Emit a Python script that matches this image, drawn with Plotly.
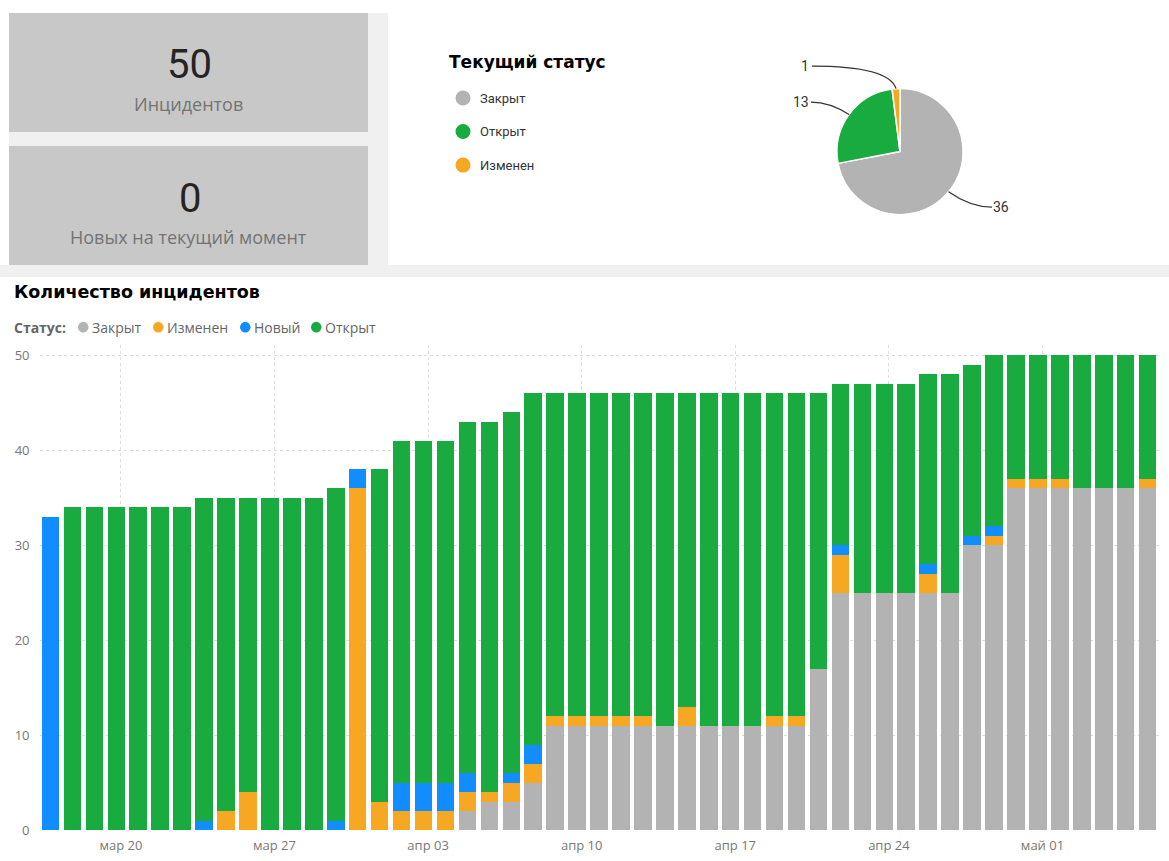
import math
import pandas as pd
import plotly.graph_objects as go

# ---------------- data ----------------
start_date = "2020-03-17"
n_days = 51
dates = pd.date_range(start_date, periods=n_days)

closed  = [0,0,0,0,0,0,0,0,0,0,0,0,0,0,0,0,0,0,0,2,3,3,5,11,11,11,11,11,11,11,11,11,11,11,11,17,25,25,25,25,25,25,30,30,36,36,36,36,36,36,36]
changed = [0,0,0,0,0,0,0,0,2,4,0,0,0,0,36,3,2,2,2,2,1,2,2,1,1,1,1,1,0,2,0,0,0,1,1,0,4,0,0,0,2,0,0,1,1,1,1,0,0,0,1]
new     = [33,0,0,0,0,0,0,1,0,0,0,0,0,1,2,0,3,3,3,2,0,1,2,0,0,0,0,0,0,0,0,0,0,0,0,0,1,0,0,0,1,0,1,1,0,0,0,0,0,0,0]
opened  = [0,34,34,34,34,34,34,34,33,31,35,35,35,35,0,35,36,36,36,37,39,38,37,34,34,34,34,34,35,33,35,35,35,34,34,29,17,22,22,22,20,23,18,18,13,13,13,14,14,14,13]

series_names = ["Закрыт", "Изменен", "Новый", "Открыт"]
series_values = [closed, changed, new, opened]

tick_dates = ["2020-03-20", "2020-03-27", "2020-04-03", "2020-04-10", "2020-04-17", "2020-04-24", "2020-05-01"]
tick_labels = ["мар 20", "мар 27", "апр 03", "апр 10", "апр 17", "апр 24", "май 01"]
y_ticks = [0, 10, 20, 30, 40, 50]

pie_labels = ["Закрыт", "Открыт", "Изменен"]
pie_values = [36, 13, 1]

kpi_total = 50
kpi_total_label = "Инцидентов"
kpi_new = 0
kpi_new_label = "Новых на текущий момент"

# ---------------- styles ----------------
colors = {"Закрыт": "#B3B3B3", "Изменен": "#F7A823", "Новый": "#118DFF", "Открыт": "#1AAB40"}
W, H = 1169, 861
KY = 1.011  # vertical layout correction
FONT = "Segoe UI, Open Sans, Noto Sans, sans-serif"
BOLD = "DejaVu Sans, Liberation Sans, sans-serif"
NARROW = "Liberation Sans Narrow, Roboto, sans-serif"


def px(x):
    return x / W


def py(y):
    return 1 - y * KY / H


fig = go.Figure()

for name, vals in zip(series_names, series_values):
    fig.add_trace(go.Bar(x=dates, y=vals, name=name, marker=dict(color=colors[name], line=dict(width=0)),
                         showlegend=False, hoverinfo="skip"))

# pie
pie_cx, pie_cy, pie_r = 900, 151.5, 63
fig.add_trace(go.Pie(labels=pie_labels, values=pie_values, sort=False, direction="clockwise", rotation=0,
                     marker=dict(colors=[colors[l] for l in pie_labels], line=dict(color="white", width=1.5)),
                     textinfo="none", hoverinfo="skip", showlegend=False,
                     domain=dict(x=[px(pie_cx - pie_r * KY), px(pie_cx + pie_r * KY)],
                                 y=[py(pie_cy + pie_r), py(pie_cy - pie_r)])))

shapes = []
annotations = []


def text(x, y, s, size, color, family=FONT, xanchor="center"):
    annotations.append(dict(x=px(x), y=py(y), text=s, xanchor=xanchor, yanchor="middle",
                            font=dict(family=family, size=size, color=color)))


# background panels
shapes.append(dict(type="rect", xref="paper", yref="paper", x0=px(9), x1=px(388), y0=py(277), y1=py(13),
                   fillcolor="#F0F0F0", line=dict(width=0), layer="below"))
shapes.append(dict(type="rect", xref="paper", yref="paper", x0=px(0), x1=px(1169), y0=py(277), y1=py(265),
                   fillcolor="#F0F0F0", line=dict(width=0), layer="below"))
for y0, y1 in [(13, 132), (146, 265)]:
    shapes.append(dict(type="rect", xref="paper", yref="paper", x0=px(9), x1=px(368), y0=py(y1), y1=py(y0),
                       fillcolor="#C8C8C8", line=dict(width=0), layer="below"))

# KPI cards
text(189, 64, str(kpi_total), 40, "#252423", NARROW)
text(188, 104, kpi_total_label, 18, "#737373")
text(190, 198, str(kpi_new), 40, "#252423", NARROW)
text(188, 237, kpi_new_label, 18, "#737373")

# pie legend
text(447, 62, "<b>Текущий статус</b>", 17, "#000000", BOLD, "left")
for i, lab in enumerate(pie_labels):
    yc = 98 + i * 33.5
    shapes.append(dict(type="circle", xref="paper", yref="paper", x0=px(455.5), x1=px(470.5), y0=py(yc + 7.5),
                       y1=py(yc - 7.5), fillcolor=colors[lab], line=dict(width=0)))
    text(478, yc, lab, 13, "#333333", NARROW + ", " + FONT, "left")

# pie value labels with curved leader lines
# (label centre x, label centre y, line start x, curve factor)
label_pos = [(1001, 207, 992, 0.5), (801, 102, 811, 0.5), (805, 66, 812, 0.92)]
cum = 0
total = sum(pie_values)
for v, (lx, ly, ex, f) in zip(pie_values, label_pos):
    mid = (cum + v / 2) / total * 2 * math.pi
    cum += v
    xa = pie_cx + pie_r * math.sin(mid)
    ya = pie_cy - pie_r * math.cos(mid)
    cx = ex + f * (xa - ex)
    path = f"M {px(ex)},{py(ly)} Q {px(cx)},{py(ly)} {px(xa)},{py(ya)}"
    shapes.append(dict(type="path", xref="paper", yref="paper", path=path,
                       line=dict(color="#333333", width=1.2)))
    text(lx, ly, str(v), 14, "#333333", NARROW)

# bar chart title & legend
text(12, 292, "<b>Количество инцидентов</b>", 17.5, "#000000", BOLD, "left")
text(12, 327, "<b>Статус:</b>", 14, "#666666", FONT, "left")
legend_x = [(78, 90), (153, 165), (240, 252), (311, 323)]
for name, (bx, tx) in zip(series_names, legend_x):
    shapes.append(dict(type="circle", xref="paper", yref="paper", x0=px(bx), x1=px(bx + 10.5), y0=py(332.3),
                       y1=py(321.7), fillcolor=colors[name], line=dict(width=0)))
    text(tx, 327, name, 14, "#666666", FONT, "left")

for a in annotations:
    a.setdefault("xref", "paper")
    a.setdefault("yref", "paper")
    a.setdefault("showarrow", False)

x0_px, x1_px = 39.5, 1158.6
y_bottom, y_top = 830, 345
y_max = (y_bottom - y_top) / 9.5

fig.update_layout(
    width=W, height=H, margin=dict(l=0, r=0, t=0, b=0), autosize=False,
    paper_bgcolor="white", plot_bgcolor="white",
    barmode="stack", bargap=0.2,
    shapes=shapes, annotations=annotations,
    showlegend=False,
    xaxis=dict(domain=[px(x0_px), px(x1_px)], type="date",
               range=[dates[0] - pd.Timedelta(hours=12), dates[-1] + pd.Timedelta(hours=12)],
               tickvals=[pd.Timestamp(d) + pd.Timedelta(hours=5) for d in tick_dates], ticktext=tick_labels,
               showgrid=True, gridcolor="#DDDDDD", griddash="dot", gridwidth=1,
               showline=False, zeroline=False, ticks="", ticklabelstandoff=6,
               tickfont=dict(family=FONT, size=13, color="#777777")),
    yaxis=dict(domain=[py(y_bottom), py(y_top)], range=[0, y_max], tickvals=y_ticks,
               showgrid=True, gridcolor="#DDDDDD", griddash="dot", gridwidth=1,
               showline=False, zeroline=False, ticks="", ticklabelstandoff=9,
               tickfont=dict(family=FONT, size=13, color="#777777")),
)

post = ("document.documentElement.style.margin='0';document.documentElement.style.overflow='hidden';"
        "document.body.style.margin='0';document.body.style.overflow='hidden';"
        "var d=document.getElementById('{plot_id}');d.style.position='fixed';d.style.top='0';d.style.left='0';")
fig.write_html("out.html", config={"displayModeBar": False}, post_script=post)
